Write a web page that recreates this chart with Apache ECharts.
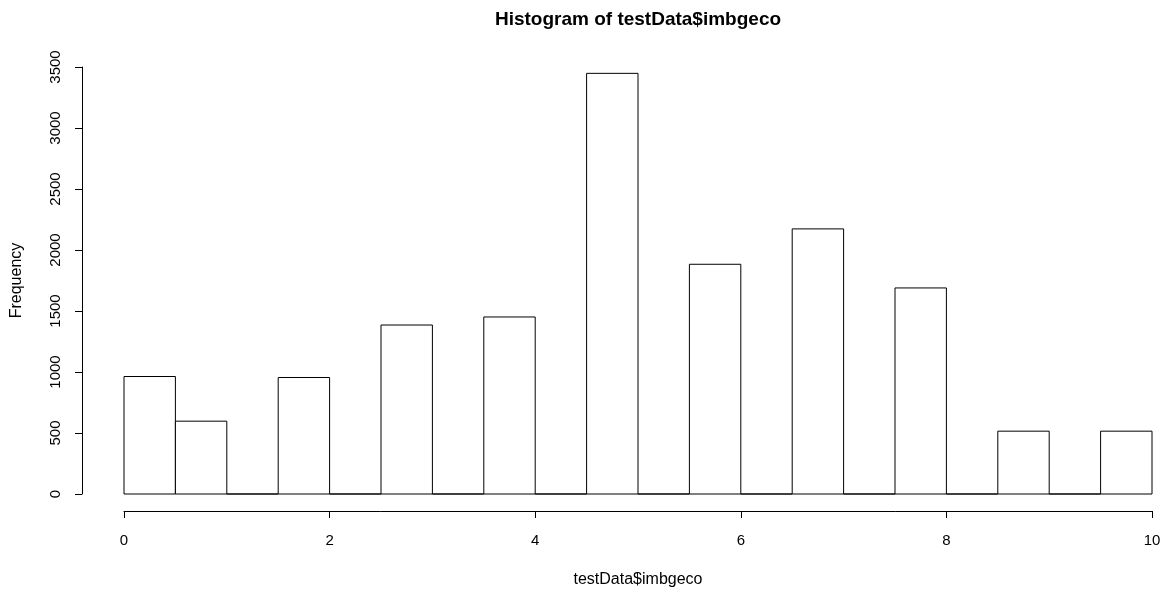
<!DOCTYPE html>
<html>
<head>
<meta charset="utf-8">
<script src="https://cdn.jsdelivr.net/npm/echarts@6/dist/echarts.min.js"></script>
<style>html,body{margin:0;padding:0;background:#fff;}#c{width:1169px;height:594px;}</style>
</head>
<body>
<div id="c"></div>
<script>
const binEdges = [0,0.5,1,1.5,2,2.5,3,3.5,4,4.5,5,5.5,6,6.5,7,7.5,8,8.5,9,9.5,10];
const counts = [963,597,0,955,0,1385,0,1451,0,3448,0,1883,0,2173,0,1689,0,515,0,515];
const xTicks = [0,2,4,6,8,10];
const yTicks = [0,500,1000,1500,2000,2500,3000,3500];

const data = counts.map((c,i)=>[binEdges[i], binEdges[i+1], c]);
const chart = echarts.init(document.getElementById('c'), null, {renderer:'canvas'});
const fontFam = '"Liberation Sans", Arial, sans-serif';
chart.setOption({
  backgroundColor:'#fff',
  animation:false,
  title:{text:'Histogram of testData$imbgeco', left:633, top:5, textAlign:'center',
    textStyle:{fontFamily:fontFam, fontWeight:'bold', fontSize:19, color:'#000'}},
  grid:{left:124, right:17, top:67, bottom:100, containLabel:false, outerBoundsMode:'none'},
  xAxis:{type:'value', min:xTicks[0], max:xTicks[xTicks.length-1], interval:2, offset:17,
    name:'testData$imbgeco', nameLocation:'middle', nameGap:61, nameMoveOverlap:false,
    nameTextStyle:{fontFamily:fontFam, fontSize:16, color:'#000'},
    axisLine:{show:true, onZero:false, lineStyle:{color:'#000', width:1}},
    axisTick:{show:true, length:7, lineStyle:{color:'#000'}},
    axisLabel:{fontFamily:fontFam, fontSize:15, color:'#000', margin:22, formatter:v=>String(v)},
    splitLine:{show:false}},
  yAxis:{type:'value', min:yTicks[0], max:yTicks[yTicks.length-1], interval:500, offset:42,
    name:'Frequency', nameLocation:'middle', nameGap:57, nameRotate:90, nameMoveOverlap:false,
    nameTextStyle:{fontFamily:fontFam, fontSize:16, color:'#000'},
    axisLine:{show:true, onZero:false, lineStyle:{color:'#000', width:1}},
    axisTick:{show:true, length:7, lineStyle:{color:'#000'}},
    axisLabel:{fontFamily:fontFam, fontSize:15, color:'#000', rotate:90, margin:19, formatter:v=>String(v)},
    splitLine:{show:false}},
  series:[{
    type:'custom',
    data:data,
    clip:false,
    renderItem:function(params, api){
      const p0 = api.coord([api.value(0), 0]);
      const p1 = api.coord([api.value(1), api.value(2)]);
      return {type:'rect', shape:{x:p0[0], y:p1[1], width:p1[0]-p0[0], height:p0[1]-p1[1]},
        style:{fill:'#fff', stroke:'#000', lineWidth:1}};
    }
  }]
});
</script>
</body>
</html>
